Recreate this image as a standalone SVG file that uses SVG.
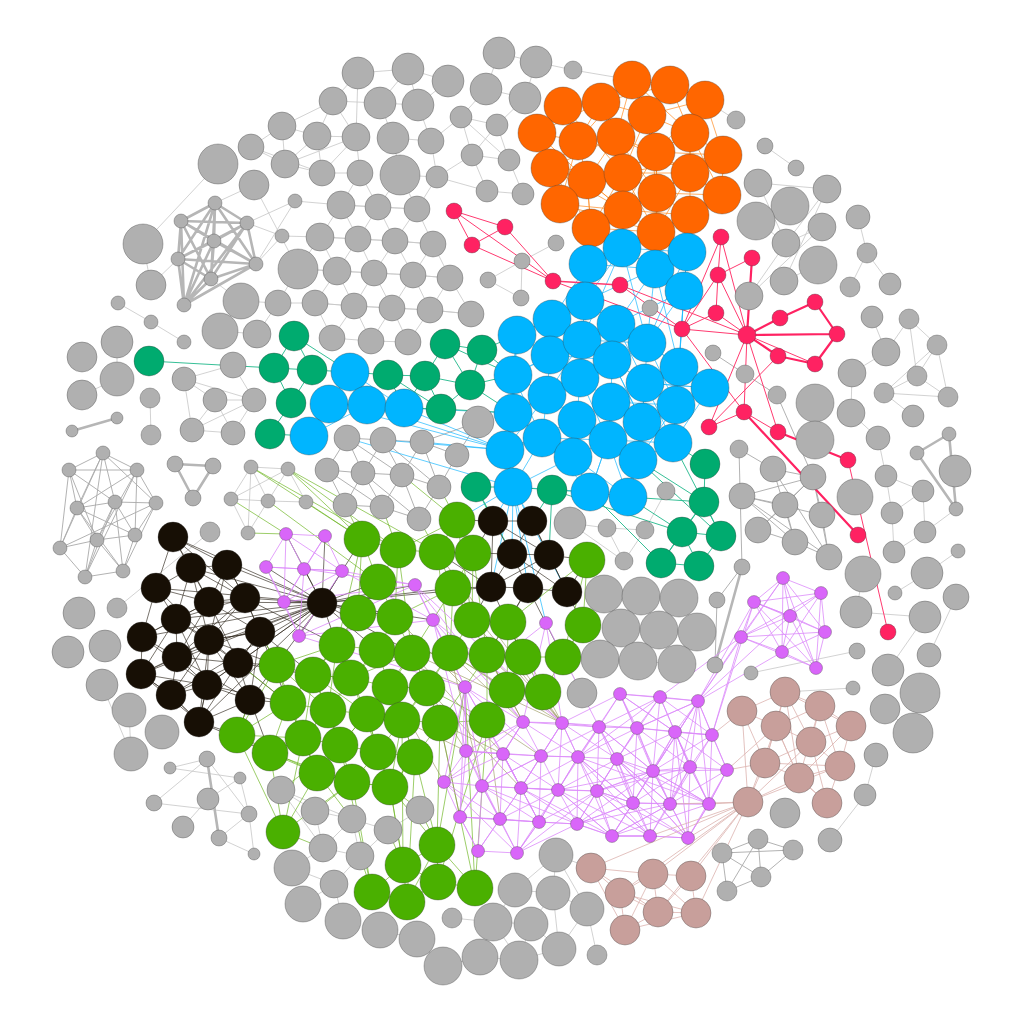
<svg xmlns="http://www.w3.org/2000/svg" width="1024" height="1024" viewBox="0 0 1024 1024">
<style>
circle{stroke:#333;stroke-width:.6;stroke-opacity:.55}
.gr circle{fill:#b0b0b0}
.or circle{fill:#ff6600}
.bl circle{fill:#00b5ff}
.te circle{fill:#00ab6f}
.rd circle{fill:#ff2262}
.bk circle{fill:#170f05}
.lm circle{fill:#4ab000}
.pu circle{fill:#d966f9}
.ro circle{fill:#c89f9b}
path{fill:none;stroke-linejoin:round}
.eg{stroke:#c6c6c6;stroke-width:.8}
.egd{stroke:#a9a9a9;stroke-width:.9}
.egt{stroke:#b6b6b6;stroke-width:2.6}
.eo{stroke:#ff8a1e;stroke-width:.7}
.eb{stroke:#1ab8ff;stroke-width:.7}
.et{stroke:#1fb88a;stroke-width:.9}
.ek{stroke:#2b2217;stroke-width:.8;stroke-opacity:.8}
.el{stroke:#6cb520;stroke-width:.8;stroke-opacity:.85}
.eol{stroke:#8d8a4a;stroke-width:.7;stroke-opacity:.8}
.ep{stroke:#dc8afa;stroke-width:.8}
.er{stroke:#dcb3ae;stroke-width:.8}
.erd{stroke:#ff3a70;stroke-width:1}
.erdt{stroke:#ff2262;stroke-width:2.2}
</style>
<rect width="1024" height="1024" fill="#fff"/>
<g id="connectors">
<path class="eg" d="M282,126 L333,101 358,73 356,137 333,101 317,136 282,126 251,147 285,164 282,126 M317,136 L356,137 360,173 322,173 317,136 285,164 322,173 M251,147 L322,173 M356,137 L322,173 M285,164 L356,137 M333,101 L380,103 M358,73 L408,69 448,81 418,105 380,103 408,69 418,105 M380,103 L393,138 431,141 418,105 M393,138 L400,175 437,177 431,141 M360,173 L341,205 378,207 360,173 M400,175 L378,207 417,209 400,175 M417,209 L437,177 M499,53 L536,62 525,98 486,89 499,53 M486,89 L461,117 497,125 525,98 M461,117 L472,155 509,160 497,125 472,155 M461,117 L509,160 M472,155 L487,191 523,194 509,160 M437,177 L472,155 M437,177 L487,191 M431,141 L461,117 M573,70 L632,80 M536,62 L573,70 M341,205 L320,237 358,239 341,205 M378,207 L358,239 395,241 378,207 M417,209 L395,241 433,244 417,209 M320,237 L298,269 337,271 320,237 M358,239 L337,271 374,273 358,239 M395,241 L374,273 413,275 395,241 M433,244 L413,275 450,278 433,244 M298,269 L278,303 M337,271 L315,303 354,306 337,271 M374,273 L354,306 392,308 374,273 M413,275 L392,308 430,310 413,275 M450,278 L430,310 471,314 450,278 M278,303 L315,303 354,306 392,308 430,310 471,314 M315,303 L332,338 354,306 371,341 392,308 408,342 430,310 M332,338 L371,341 408,342 M320,237 L358,239 395,241 433,244 M298,269 L337,271 374,273 413,275 450,278 M341,205 L378,207 417,209 M254,185 L298,269 M241,301 L278,303 M257,334 L278,303 M220,331 L257,334 M218,164 L143,244 M151,285 L178,259 M118,303 L151,322 184,342 M117,342 L117,379 M143,244 L151,285 M241,301 L211,279 M254,185 L215,203 M295,201 L247,223 M295,201 L256,264 M282,236 L256,264 M282,236 L247,223 M282,236 L320,237 M295,201 L341,205 M117,379 L82,395 M184,379 L215,400 254,400 233,433 192,430 184,379 M215,400 L233,433 M215,400 L192,430 M184,379 L254,400 M233,365 L254,400 M150,398 L151,435 M233,365 L184,379 M192,430 L254,400 M210,532 L117,608 M705,100 L736,120 M765,146 L796,168 M758,183 L827,189 M758,183 L786,243 M827,189 L786,243 M822,227 L786,243 M827,189 L784,281 M822,227 L749,296 M756,221 L786,243 M858,217 L867,253 890,284 M867,253 L850,287 M872,317 L886,352 909,319 937,345 917,376 M909,319 L917,376 M786,243 L749,296 M818,265 L784,281 M852,373 L886,352 M852,373 L851,413 M884,393 L917,376 948,397 884,393 M884,393 L937,345 M948,397 L937,345 M913,416 L884,393 M851,413 L878,438 M878,438 L886,476 892,513 894,552 M886,476 L923,491 892,513 M923,491 L925,532 894,552 M958,551 L927,573 895,593 M956,509 L925,532 M856,612 L925,617 888,670 M857,651 L751,673 M956,597 L929,655 M863,574 L856,612 M853,688 L785,692 M876,755 L865,795 830,840 M885,709 L913,733 M170,768 L240,778 249,814 219,838 M207,759 L154,803 249,814 M207,759 L249,814 M208,799 L183,827 M208,799 L240,778 M249,814 L254,854 M219,838 L254,854 M170,768 L207,759 M102,685 L131,754 M129,710 L131,754 M281,790 L315,811 352,819 M281,790 L323,848 315,811 M352,819 L323,848 360,856 352,819 M323,848 L292,868 334,884 303,904 M334,884 L343,921 M360,856 L334,884 M281,790 L352,819 M352,819 L388,830 420,810 M360,856 L388,830 M556,855 L515,890 553,893 556,855 587,909 553,893 559,949 587,909 597,955 M553,893 L531,924 559,949 M515,890 L493,922 531,924 M452,918 L493,922 480,957 519,960 531,924 M493,922 L519,960 M559,949 L519,960 M443,966 L480,957 M417,939 L443,966 M380,930 L417,939 M556,243 L522,261 488,280 521,298 522,261 M570,523 L607,528 645,530 M607,528 L624,561 M645,530 L666,491 M645,530 L624,561 M570,523 L624,561 M604,594 L641,596 679,598 M621,628 L659,630 697,632 M600,659 L638,661 677,664 M604,594 L621,628 600,659 M641,596 L659,630 638,661 M679,598 L697,632 677,664 M582,693 L563,657 M591,868 L556,855 M251,467 L288,469 268,501 251,467 231,499 268,501 306,502 288,469 M231,499 L248,533 268,501 M251,467 L248,533 M288,469 L231,499"/>
<path class="egd" d="M103,453 L69,470 77,508 60,548 85,577 123,571 135,535 156,503 137,470 103,453 115,502 69,470 137,470 77,508 103,453 156,503 115,502 77,508 97,540 115,502 135,535 97,540 60,548 69,470 97,540 85,577 115,502 123,571 97,540 137,470 135,535 77,508 123,571 156,503 60,548 103,453 85,577 137,470 M347,438 L383,440 422,442 457,455 439,487 402,475 363,473 327,470 347,438 363,473 383,440 402,475 422,442 439,487 419,519 382,507 345,505 327,470 M363,473 L345,505 M363,473 L382,507 402,475 419,519 M347,438 L402,475 M383,440 L439,487 M327,470 L382,507 M363,473 L419,519 M457,455 L478,422 M422,442 L478,422 M739,449 L742,567 M773,469 L739,449 M742,496 L813,477 M742,496 L785,505 M742,496 L795,542 M742,496 L829,557 M742,496 L822,515 M773,469 L813,477 M773,469 L829,557 M773,469 L795,542 M813,477 L785,505 M813,477 L822,515 M813,477 L829,557 M785,505 L758,530 M785,505 L795,542 M822,515 L829,557 M758,530 L795,542 829,557 M813,477 L758,530 M777,395 L813,477 M713,353 L745,374 777,395 M717,600 L715,665 M717,600 L742,567 M722,853 L758,839 793,850 761,877 727,891 722,853 761,877 758,839 727,891 M793,850 L722,853"/>
<path class="egt" d="M215,203 L181,221 247,223 214,241 178,259 256,264 211,279 184,305 215,203 247,223 178,259 211,279 215,203 214,241 256,264 184,305 181,221 214,241 211,279 247,223 256,264 215,203 178,259 184,305 247,223 M181,221 L178,259 M181,221 L211,279 M214,241 L184,305 M181,221 L256,264 M72,431 L117,418 M175,464 L213,466 193,498 Z M949,434 L917,453 956,509 Z M742,567 L715,665 M207,759 L219,838"/>
<path class="eo" d="M563,106 L601,102 632,80 670,85 705,100 723,155 722,195 690,215 656,232 591,228 560,204 550,168 537,133 563,106 M537,133 L578,141 616,137 647,115 690,133 723,155 690,173 656,152 623,173 587,180 550,168 M632,80 L647,115 656,152 657,193 690,215 690,173 690,133 705,100 647,115 616,137 623,173 623,210 591,228 587,180 578,141 563,106 M601,102 L578,141 550,168 587,180 560,204 623,210 657,193 722,195 690,173 657,193 656,232 623,210 587,180 623,173 657,193 656,152 616,137 601,102 M632,80 L616,137 587,180 591,228 623,173 656,232 690,173 723,155 656,152 690,133 670,85 647,115 623,173 560,204 578,141 632,80 M537,133 L587,180 623,210 690,215 722,195 690,133 656,152 623,173 601,102 670,85 616,137 657,193 591,228 550,168 623,173 563,106 M705,100 L656,152 623,210 550,168 616,137 690,173 623,173 723,155 657,193 647,115 601,102 537,133 560,204 656,232 722,195 656,152 632,80 690,133 690,173 591,228"/>
<path class="eb" d="M517,335 L552,319 585,301 588,264 622,248 687,252 684,291 679,367 710,388 676,405 673,443 638,460 628,497 590,492 513,487 505,450 513,413 513,375 517,335 M588,264 L655,269 687,252 684,291 655,269 622,248 585,301 616,324 655,269 647,343 684,291 679,367 647,343 616,324 582,340 585,301 552,319 582,340 550,355 517,335 513,375 550,355 547,395 513,375 M550,355 L580,378 582,340 612,360 616,324 647,343 645,383 679,367 676,405 645,383 612,360 580,378 547,395 513,413 542,438 547,395 577,420 580,378 611,402 612,360 642,422 645,383 673,443 642,422 611,402 577,420 542,438 505,450 513,487 542,438 573,457 577,420 608,440 611,402 676,405 M608,440 L573,457 590,492 608,440 638,460 642,422 608,440 628,497 573,457 513,487 513,413 505,450 542,438 608,440 673,443 710,388 645,383 710,388 647,343 687,252 M588,264 L552,319 550,355 612,360 642,422 628,497 638,460 676,405 647,343 622,248 582,340 547,395 505,450 577,420 638,460 645,383 616,324 684,291 676,405 679,367 655,269 585,301 517,335 513,413 580,378 608,440 590,492 542,438 513,375 582,340 647,343 M350,372 L329,404 367,405 350,372 404,408 367,405 309,436 329,404 M404,408 L513,413 M404,408 L505,450 M367,405 L505,450 M329,404 L505,450 M347,438 L513,487 M383,440 L505,450 M513,487 L493,521 M513,487 L532,521 M513,487 L512,554 M513,487 L491,587 M513,487 L528,588 M513,487 L457,520 M513,487 L546,623 M513,487 L567,592 M505,450 L422,442"/>
<path class="et" d="M149,361 L274,368 M274,368 L312,370 294,336 274,368 291,403 312,370 M291,403 L270,434 M294,336 L350,372 M312,370 L350,372 M388,375 L425,376 445,344 482,350 470,385 425,376 441,409 470,385 445,344 M388,375 L350,372 M388,375 L441,409 M441,409 L404,408 M482,350 L517,335 M470,385 L513,375 M476,487 L513,487 M552,490 L513,487 M552,490 L590,492 M705,464 L704,502 682,532 721,536 699,566 661,563 682,532 699,566 M704,502 L721,536 M704,502 L661,563 M628,497 L682,532 M590,492 L661,563 M638,460 L704,502 M673,443 L705,464 M552,490 L682,532 M628,497 L704,502 M638,460 L721,536 M673,443 L721,536 M388,375 L404,408 M425,376 L404,408 M445,344 L513,375 M482,350 L513,375 M441,409 L513,413 M470,385 L513,413 M476,487 L493,521 M476,487 L512,554 M552,490 L532,521 M552,490 L549,555 M270,434 L309,436"/>
<path class="ek" d="M173,537 L191,568 227,565 245,598 260,632 238,663 250,700 199,722 171,695 141,674 142,637 156,588 173,537 M173,537 L227,565 209,602 191,568 156,588 176,619 209,602 245,598 209,640 176,619 142,637 177,657 209,640 260,632 209,602 238,663 209,640 207,685 177,657 141,674 207,685 250,700 209,640 171,695 207,685 199,722 238,663 M191,568 L176,619 177,657 171,695 199,722 207,685 238,663 260,632 245,598 227,565 209,640 156,588 209,602 173,537 245,598 191,568 209,640 141,674 176,619 207,685 142,637 209,602 177,657 250,700 260,632 209,640 199,722 141,674 171,695 238,663 177,657 245,598 176,619 238,663 M322,603 L173,537 M322,603 L191,568 M322,603 L227,565 M322,603 L156,588 M322,603 L209,602 M322,603 L245,598 M322,603 L176,619 M322,603 L142,637 M322,603 L209,640 M322,603 L260,632 M322,603 L177,657 M322,603 L238,663 M322,603 L141,674 M322,603 L207,685 M322,603 L171,695 M322,603 L250,700 M322,603 L199,722 M260,632 L277,665 M238,663 L277,665 M250,700 L288,703 M250,700 L237,735 M199,722 L237,735 M238,663 L288,703 M245,598 L337,645 M260,632 L313,675 M209,640 L277,665 M207,685 L288,703 M260,632 L288,703 M250,700 L270,753 M199,722 L270,753 M238,663 L313,675 M322,603 L358,613 M322,603 L378,582 M322,603 L362,539 M322,603 L395,617 M322,603 L453,588 M322,603 L491,587 M322,603 L412,653 M322,603 L337,645 M322,603 L377,650 M322,603 L286,534 M322,603 L304,569 M322,603 L266,567 M322,603 L284,602 M322,603 L299,636 M322,603 L342,571 M322,603 L325,536 M322,603 L415,585 M322,603 L433,620 M493,521 L532,521 549,555 567,592 528,588 491,587 512,554 493,521 M532,521 L512,554 549,555 528,588 512,554 567,592 M491,587 L549,555 M532,521 L567,592 M493,521 L491,587 M493,521 L549,555 M491,587 L453,588 M491,587 L472,620 M528,588 L508,622 M567,592 L583,625 M567,592 L587,560 M549,555 L587,560 M493,521 L457,520 M493,521 L473,553 M512,554 L473,553 M491,587 L437,552 M528,588 L563,657 M491,587 L523,657 M528,588 L487,655"/>
<path class="el" d="M362,539 L398,550 437,552 473,553 457,520 437,552 453,588 473,553 472,620 508,622 523,657 563,657 583,625 587,560 508,622 487,655 450,653 472,620 453,588 395,617 378,582 398,550 395,617 358,613 378,582 362,539 358,613 337,645 377,650 395,617 412,653 453,588 450,653 412,653 377,650 351,678 313,675 337,645 277,665 313,675 288,703 277,665 237,735 288,703 328,710 313,675 351,678 328,710 367,714 351,678 390,687 377,650 412,653 427,688 390,687 367,714 402,720 427,688 440,723 402,720 378,752 367,714 340,745 328,710 303,738 288,703 270,753 237,735 303,738 270,753 317,773 303,738 340,745 317,773 352,782 340,745 378,752 352,782 390,787 378,752 415,757 390,787 402,720 415,757 440,723 487,720 507,690 487,655 487,720 427,688 450,653 507,690 543,692 523,657 507,690 508,622 M277,665 L328,710 337,645 351,678 412,653 390,687 402,720 367,714 313,675 303,738 328,710 340,745 367,714 378,752 390,787 403,865 437,845 438,882 475,888 437,845 407,902 372,892 403,865 438,882 407,902 403,865 390,787 415,757 437,845 390,787 352,782 372,892 M283,832 L317,773 M283,832 L270,753 M283,832 L352,782 M283,832 L237,735 M437,845 L440,723 M438,882 L487,720 M475,888 L487,720 M475,888 L465,687 M403,865 L402,720 M407,902 L415,757 M437,845 L465,687 M372,892 L340,745 M283,832 L303,738 M475,888 L440,723 M362,539 L337,645 M398,550 L412,653 M437,552 L450,653 M473,553 L487,655 M457,520 L472,620 M457,520 L398,550 M587,560 L563,657 M583,625 L543,692 M358,613 L313,675 M377,650 L328,710 M412,653 L367,714 M450,653 L402,720 M487,655 L440,723 M523,657 L487,720 M277,665 L303,738 M313,675 L340,745 M351,678 L378,752 M390,687 L415,757 M337,645 L288,703 M237,735 L317,773 M288,703 L317,773 M270,753 L352,782 M251,467 L362,539 M251,467 L398,550 M288,469 L362,539 M288,469 L398,550 M306,502 L362,539 M345,505 L362,539 M382,507 L398,550 M419,519 L437,552 M439,487 L457,520 M402,475 L457,520 M268,501 L378,582 M231,499 L286,534 M248,533 L286,534 M288,469 L437,552 M283,832 L323,848 M317,773 L352,819 M352,782 L315,811 M437,845 L420,810 M403,865 L388,830 M390,787 L420,810 M372,892 L360,856 M340,745 L281,790 M277,665 L260,632 M237,735 L250,700 M288,703 L238,663"/>
<path class="eol" d="M453,588 L562,723 M472,620 L562,723 M450,653 L562,723 M487,655 L562,723 M412,653 L562,723 M437,552 L562,723 M508,622 L562,723 M487,655 L523,722 M450,653 L523,722 M427,688 L466,751 M440,723 L503,754 M487,720 L541,756 M412,653 L503,754 M450,653 L482,786 M427,688 L521,788 M402,720 L466,751 M390,687 L444,782 M440,723 L460,817 M487,720 L500,819 M453,588 L523,722 M395,617 L465,687 M377,650 L465,687"/>
<path class="ep" d="M465,687 L523,722 562,723 599,727 637,728 675,732 712,735 727,770 709,804 688,838 650,836 612,836 577,824 539,822 517,853 478,851 460,817 444,782 466,751 465,687 M465,687 L466,751 503,754 523,722 541,756 562,723 578,757 599,727 617,759 637,728 653,771 675,732 690,767 712,735 709,804 690,767 653,771 617,759 578,757 541,756 503,754 466,751 482,786 503,754 521,788 541,756 558,790 578,757 597,791 617,759 633,803 653,771 670,804 690,767 727,770 M444,782 L482,786 521,788 558,790 597,791 633,803 670,804 709,804 727,770 698,701 712,735 675,732 660,697 698,701 675,732 620,694 660,697 637,728 620,694 599,727 660,697 712,735 637,728 698,701 690,767 675,732 727,770 653,771 698,701 M460,817 L500,819 539,822 577,824 612,836 650,836 688,838 670,804 650,836 633,803 612,836 597,791 577,824 558,790 539,822 521,788 500,819 482,786 460,817 478,851 500,819 517,853 539,822 M444,782 L503,754 460,817 482,786 478,851 521,788 517,853 558,790 500,819 503,754 539,822 541,756 482,786 523,722 503,754 465,687 521,788 562,723 541,756 466,751 523,722 444,782 465,687 482,786 541,756 578,757 523,722 599,727 541,756 M558,790 L617,759 577,824 578,757 612,836 633,803 688,838 709,804 633,803 690,767 650,836 653,771 597,791 653,771 612,836 670,804 617,759 670,804 727,770 688,838 653,771 709,804 578,757 633,803 577,824 653,771 558,790 612,836 650,836 597,791 690,767 M562,723 L617,759 599,727 653,771 620,694 578,757 637,728 562,723 558,790 599,727 597,791 637,728 633,803 675,732 670,804 698,701 653,771 712,735 670,804 620,694 675,732 617,759 660,697 578,757 562,723 620,694 698,701 637,728 690,767 660,697 653,771 599,727 633,803 578,757 650,836 617,759 688,838 690,767 709,804 653,771 698,701 709,804 675,732 688,838 M577,824 L521,788 612,836 558,790 650,836 597,791 688,838 617,759 709,804 612,836 670,804 577,824 633,803 597,791 539,822 578,757 521,788 597,791 517,853 577,824 482,786 539,822 460,817 539,822 503,754 558,790 482,786 517,853 444,782 500,819 466,751 460,817 465,687 541,756 521,788 503,754 M783,578 L821,593 825,632 816,668 782,652 741,637 754,602 783,578 790,616 821,593 754,602 790,616 825,632 782,652 790,616 741,637 783,578 825,632 754,602 782,652 783,578 816,668 790,616 754,602 816,668 741,637 821,593 782,652 M741,637 L825,632 M821,593 L816,668 M741,637 L698,701 M754,602 L698,701 M783,578 L698,701 M782,652 L698,701 M741,637 L712,735 M754,602 L712,735 M790,616 L698,701 M741,637 L660,697 M286,534 L325,536 342,571 304,569 286,534 266,567 304,569 325,536 M266,567 L284,602 304,569 299,636 284,602 342,571 299,636 M286,534 L342,571 M266,567 L342,571 M325,536 L284,602 M286,534 L284,602 M266,567 L299,636 M342,571 L415,585 M342,571 L433,620 M304,569 L415,585 M299,636 L433,620 M299,636 L415,585 M299,636 L465,687 M284,602 L415,585 M415,585 L433,620 M415,585 L465,687 M433,620 L465,687 M433,620 L523,722 M415,585 L523,722 M546,623 L562,723 M546,623 L523,722 M546,623 L465,687 M433,620 L562,723 M546,623 L599,727 M415,585 L562,723 M433,620 L466,751"/>
<path class="er" d="M742,711 L785,692 820,706 851,726 840,766 827,803 799,778 765,763 748,802 742,711 776,726 785,692 811,742 820,706 776,726 811,742 851,726 799,778 776,726 765,763 811,742 840,766 799,778 748,802 776,726 799,778 827,803 811,742 748,802 840,766 765,763 785,692 799,778 M820,706 L840,766 M785,692 L851,726 M742,711 L765,763 M820,706 L799,778 M748,802 L691,876 M748,802 L696,913 M748,802 L653,874 M748,802 L591,868 M748,802 L709,804 M748,802 L688,838 M748,802 L670,804 M748,802 L650,836 M765,763 L727,770 M742,711 L712,735 M776,726 L727,770 M748,802 L620,893 M748,802 L658,912 M591,868 L653,874 691,876 696,913 658,912 625,930 620,893 591,868 M653,874 L658,912 691,876 M620,893 L658,912 M653,874 L620,893 M696,913 L653,874 M591,868 L658,912 M625,930 L696,913 M620,893 L696,913 M591,868 L625,930 M653,874 L625,930"/>
<path class="erd" d="M454,211 L505,227 472,245 454,211 553,281 472,245 M505,227 L553,281 M620,285 L682,329 M553,281 L682,329 M620,285 L747,335 M721,237 L718,275 M721,237 L682,329 M721,237 L747,335 M752,258 L718,275 716,313 747,335 M718,275 L747,335 M682,329 L747,335 M716,313 L682,329 M747,335 L744,412 709,427 747,335 778,432 M747,335 L815,364 M709,427 L778,356 M744,412 L682,329 M848,460 L888,632 M718,275 L682,329 M778,432 L744,412"/>
<path class="erdt" d="M752,258 L747,335 M815,302 L780,318 747,335 837,334 815,302 M837,334 L815,364 778,356 747,335 M778,432 L848,460 M744,412 L858,535"/>
<path class="erd" style="stroke-width:1.6" d="M553,281 L620,285"/>
</g>
<g id="nodes">
<g class="gr">
<g id="u1"><circle cx="358" cy="73" r="16"/></g>
<g id="u2"><circle cx="333" cy="101" r="14"/></g>
<g id="u3"><circle cx="282" cy="126" r="14"/></g>
<g id="u4"><circle cx="317" cy="136" r="14"/></g>
<g id="u5"><circle cx="356" cy="137" r="14"/></g>
<g id="u6"><circle cx="251" cy="147" r="13"/></g>
<g id="u7"><circle cx="285" cy="164" r="14"/></g>
<g id="u8"><circle cx="322" cy="173" r="13"/></g>
<g id="u9"><circle cx="360" cy="173" r="13"/></g>
<g id="u10"><circle cx="218" cy="164" r="20"/></g>
<g id="u11"><circle cx="254" cy="185" r="15"/></g>
<g id="u12"><circle cx="295" cy="201" r="7"/></g>
<g id="u13"><circle cx="215" cy="203" r="7"/></g>
<g id="u14"><circle cx="181" cy="221" r="7"/></g>
<g id="u15"><circle cx="247" cy="223" r="7"/></g>
<g id="u16"><circle cx="214" cy="241" r="7"/></g>
<g id="u17"><circle cx="178" cy="259" r="7"/></g>
<g id="u18"><circle cx="256" cy="264" r="7"/></g>
<g id="u19"><circle cx="211" cy="279" r="7"/></g>
<g id="u20"><circle cx="184" cy="305" r="7"/></g>
<g id="u21"><circle cx="282" cy="236" r="7"/></g>
<g id="u22"><circle cx="143" cy="244" r="20"/></g>
<g id="u23"><circle cx="151" cy="285" r="15"/></g>
<g id="u24"><circle cx="298" cy="269" r="20"/></g>
<g id="u25"><circle cx="341" cy="205" r="14"/></g>
<g id="u26"><circle cx="320" cy="237" r="14"/></g>
<g id="u27"><circle cx="358" cy="239" r="13"/></g>
<g id="u28"><circle cx="337" cy="271" r="14"/></g>
<g id="u29"><circle cx="241" cy="301" r="18"/></g>
<g id="u30"><circle cx="278" cy="303" r="13"/></g>
<g id="u31"><circle cx="315" cy="303" r="13"/></g>
<g id="u32"><circle cx="354" cy="306" r="13"/></g>
<g id="u33"><circle cx="118" cy="303" r="7"/></g>
<g id="u34"><circle cx="151" cy="322" r="7"/></g>
<g id="u35"><circle cx="184" cy="342" r="7"/></g>
<g id="u36"><circle cx="117" cy="342" r="16"/></g>
<g id="u37"><circle cx="220" cy="331" r="18"/></g>
<g id="u38"><circle cx="257" cy="334" r="14"/></g>
<g id="u39"><circle cx="332" cy="338" r="13"/></g>
<g id="u40"><circle cx="82" cy="357" r="15"/></g>
<g id="u41"><circle cx="408" cy="69" r="16"/></g>
<g id="u42"><circle cx="448" cy="81" r="16"/></g>
<g id="u43"><circle cx="499" cy="53" r="16"/></g>
<g id="u44"><circle cx="536" cy="62" r="16"/></g>
<g id="u45"><circle cx="573" cy="70" r="9"/></g>
<g id="u46"><circle cx="380" cy="103" r="16"/></g>
<g id="u47"><circle cx="418" cy="105" r="16"/></g>
<g id="u48"><circle cx="486" cy="89" r="16"/></g>
<g id="u49"><circle cx="525" cy="98" r="16"/></g>
<g id="u50"><circle cx="461" cy="117" r="11"/></g>
<g id="u51"><circle cx="497" cy="125" r="11"/></g>
<g id="u52"><circle cx="393" cy="138" r="16"/></g>
<g id="u53"><circle cx="431" cy="141" r="13"/></g>
<g id="u54"><circle cx="472" cy="155" r="11"/></g>
<g id="u55"><circle cx="509" cy="160" r="11"/></g>
<g id="u56"><circle cx="400" cy="175" r="20"/></g>
<g id="u57"><circle cx="437" cy="177" r="11"/></g>
<g id="u58"><circle cx="487" cy="191" r="11"/></g>
<g id="u59"><circle cx="523" cy="194" r="11"/></g>
<g id="u60"><circle cx="378" cy="207" r="13"/></g>
<g id="u61"><circle cx="417" cy="209" r="13"/></g>
<g id="u62"><circle cx="395" cy="241" r="13"/></g>
<g id="u63"><circle cx="433" cy="244" r="13"/></g>
<g id="u64"><circle cx="374" cy="273" r="13"/></g>
<g id="u65"><circle cx="413" cy="275" r="13"/></g>
<g id="u66"><circle cx="450" cy="278" r="13"/></g>
<g id="u67"><circle cx="556" cy="243" r="8"/></g>
<g id="u68"><circle cx="522" cy="261" r="8"/></g>
<g id="u69"><circle cx="488" cy="280" r="8"/></g>
<g id="u70"><circle cx="521" cy="298" r="8"/></g>
<g id="u71"><circle cx="392" cy="308" r="13"/></g>
<g id="u72"><circle cx="430" cy="310" r="13"/></g>
<g id="u73"><circle cx="471" cy="314" r="13"/></g>
<g id="u74"><circle cx="371" cy="341" r="13"/></g>
<g id="u75"><circle cx="408" cy="342" r="13"/></g>
<g id="u76"><circle cx="650" cy="308" r="8"/></g>
<g id="u77"><circle cx="736" cy="120" r="9"/></g>
<g id="u78"><circle cx="765" cy="146" r="8"/></g>
<g id="u79"><circle cx="796" cy="168" r="8"/></g>
<g id="u80"><circle cx="758" cy="183" r="14"/></g>
<g id="u81"><circle cx="827" cy="189" r="14"/></g>
<g id="u82"><circle cx="790" cy="206" r="19"/></g>
<g id="u83"><circle cx="756" cy="221" r="19"/></g>
<g id="u84"><circle cx="822" cy="227" r="14"/></g>
<g id="u85"><circle cx="858" cy="217" r="12"/></g>
<g id="u86"><circle cx="786" cy="243" r="14"/></g>
<g id="u87"><circle cx="818" cy="265" r="19"/></g>
<g id="u88"><circle cx="867" cy="253" r="10"/></g>
<g id="u89"><circle cx="784" cy="281" r="14"/></g>
<g id="u90"><circle cx="850" cy="287" r="10"/></g>
<g id="u91"><circle cx="890" cy="284" r="11"/></g>
<g id="u92"><circle cx="749" cy="296" r="14"/></g>
<g id="u93"><circle cx="872" cy="317" r="11"/></g>
<g id="u94"><circle cx="909" cy="319" r="10"/></g>
<g id="u95"><circle cx="937" cy="345" r="10"/></g>
<g id="u96"><circle cx="713" cy="353" r="8"/></g>
<g id="u97"><circle cx="886" cy="352" r="14"/></g>
<g id="u98"><circle cx="745" cy="374" r="9"/></g>
<g id="u99"><circle cx="777" cy="395" r="9"/></g>
<g id="u100"><circle cx="815" cy="403" r="19"/></g>
<g id="u101"><circle cx="815" cy="440" r="19"/></g>
<g id="u102"><circle cx="852" cy="373" r="14"/></g>
<g id="u103"><circle cx="917" cy="376" r="10"/></g>
<g id="u104"><circle cx="884" cy="393" r="10"/></g>
<g id="u105"><circle cx="948" cy="397" r="10"/></g>
<g id="u106"><circle cx="913" cy="416" r="11"/></g>
<g id="u107"><circle cx="851" cy="413" r="14"/></g>
<g id="u108"><circle cx="878" cy="438" r="12"/></g>
<g id="u109"><circle cx="917" cy="453" r="7"/></g>
<g id="u110"><circle cx="949" cy="434" r="7"/></g>
<g id="u111"><circle cx="955" cy="471" r="16"/></g>
<g id="u112"><circle cx="956" cy="509" r="7"/></g>
<g id="u113"><circle cx="739" cy="449" r="9"/></g>
<g id="u114"><circle cx="773" cy="469" r="13"/></g>
<g id="u115"><circle cx="813" cy="477" r="13"/></g>
<g id="u116"><circle cx="742" cy="496" r="13"/></g>
<g id="u117"><circle cx="785" cy="505" r="13"/></g>
<g id="u118"><circle cx="822" cy="515" r="13"/></g>
<g id="u119"><circle cx="855" cy="497" r="18"/></g>
<g id="u120"><circle cx="886" cy="476" r="11"/></g>
<g id="u121"><circle cx="923" cy="491" r="11"/></g>
<g id="u122"><circle cx="892" cy="513" r="11"/></g>
<g id="u123"><circle cx="758" cy="530" r="13"/></g>
<g id="u124"><circle cx="795" cy="542" r="13"/></g>
<g id="u125"><circle cx="829" cy="557" r="13"/></g>
<g id="u126"><circle cx="925" cy="532" r="11"/></g>
<g id="u127"><circle cx="894" cy="552" r="11"/></g>
<g id="u128"><circle cx="958" cy="551" r="7"/></g>
<g id="u129"><circle cx="863" cy="574" r="18"/></g>
<g id="u130"><circle cx="927" cy="573" r="16"/></g>
<g id="u131"><circle cx="742" cy="567" r="8"/></g>
<g id="u132"><circle cx="895" cy="593" r="7"/></g>
<g id="u133"><circle cx="956" cy="597" r="13"/></g>
<g id="u134"><circle cx="717" cy="600" r="8"/></g>
<g id="u135"><circle cx="856" cy="612" r="16"/></g>
<g id="u136"><circle cx="925" cy="617" r="16"/></g>
<g id="u137"><circle cx="857" cy="651" r="8"/></g>
<g id="u138"><circle cx="929" cy="655" r="12"/></g>
<g id="u139"><circle cx="715" cy="665" r="8"/></g>
<g id="u140"><circle cx="751" cy="673" r="7"/></g>
<g id="u141"><circle cx="888" cy="670" r="16"/></g>
<g id="u142"><circle cx="853" cy="688" r="7"/></g>
<g id="u143"><circle cx="920" cy="693" r="20"/></g>
<g id="u144"><circle cx="885" cy="709" r="15"/></g>
<g id="u145"><circle cx="913" cy="733" r="20"/></g>
<g id="u146"><circle cx="876" cy="755" r="12"/></g>
<g id="u147"><circle cx="865" cy="795" r="11"/></g>
<g id="u148"><circle cx="785" cy="813" r="15"/></g>
<g id="u149"><circle cx="830" cy="840" r="12"/></g>
<g id="u150"><circle cx="758" cy="839" r="10"/></g>
<g id="u151"><circle cx="722" cy="853" r="10"/></g>
<g id="u152"><circle cx="793" cy="850" r="10"/></g>
<g id="u153"><circle cx="761" cy="877" r="10"/></g>
<g id="u154"><circle cx="727" cy="891" r="10"/></g>
<g id="u155"><circle cx="347" cy="438" r="13"/></g>
<g id="u156"><circle cx="383" cy="440" r="13"/></g>
<g id="u157"><circle cx="422" cy="442" r="12"/></g>
<g id="u158"><circle cx="457" cy="455" r="12"/></g>
<g id="u159"><circle cx="478" cy="422" r="16"/></g>
<g id="u160"><circle cx="327" cy="470" r="12"/></g>
<g id="u161"><circle cx="363" cy="473" r="12"/></g>
<g id="u162"><circle cx="402" cy="475" r="12"/></g>
<g id="u163"><circle cx="439" cy="487" r="12"/></g>
<g id="u164"><circle cx="345" cy="505" r="12"/></g>
<g id="u165"><circle cx="382" cy="507" r="12"/></g>
<g id="u166"><circle cx="419" cy="519" r="12"/></g>
<g id="u167"><circle cx="570" cy="523" r="16"/></g>
<g id="u168"><circle cx="607" cy="528" r="9"/></g>
<g id="u169"><circle cx="645" cy="530" r="9"/></g>
<g id="u170"><circle cx="666" cy="491" r="9"/></g>
<g id="u171"><circle cx="624" cy="561" r="9"/></g>
<g id="u172"><circle cx="604" cy="594" r="19"/></g>
<g id="u173"><circle cx="641" cy="596" r="19"/></g>
<g id="u174"><circle cx="679" cy="598" r="19"/></g>
<g id="u175"><circle cx="621" cy="628" r="19"/></g>
<g id="u176"><circle cx="659" cy="630" r="19"/></g>
<g id="u177"><circle cx="697" cy="632" r="19"/></g>
<g id="u178"><circle cx="600" cy="659" r="19"/></g>
<g id="u179"><circle cx="638" cy="661" r="19"/></g>
<g id="u180"><circle cx="677" cy="664" r="19"/></g>
<g id="u181"><circle cx="582" cy="693" r="15"/></g>
<g id="u182"><circle cx="117" cy="379" r="17"/></g>
<g id="u183"><circle cx="82" cy="395" r="15"/></g>
<g id="u184"><circle cx="150" cy="398" r="10"/></g>
<g id="u185"><circle cx="184" cy="379" r="12"/></g>
<g id="u186"><circle cx="233" cy="365" r="13"/></g>
<g id="u187"><circle cx="215" cy="400" r="12"/></g>
<g id="u188"><circle cx="254" cy="400" r="12"/></g>
<g id="u189"><circle cx="151" cy="435" r="10"/></g>
<g id="u190"><circle cx="192" cy="430" r="12"/></g>
<g id="u191"><circle cx="233" cy="433" r="12"/></g>
<g id="u192"><circle cx="72" cy="431" r="6"/></g>
<g id="u193"><circle cx="117" cy="418" r="6"/></g>
<g id="u194"><circle cx="103" cy="453" r="7"/></g>
<g id="u195"><circle cx="69" cy="470" r="7"/></g>
<g id="u196"><circle cx="137" cy="470" r="7"/></g>
<g id="u197"><circle cx="77" cy="508" r="7"/></g>
<g id="u198"><circle cx="115" cy="502" r="7"/></g>
<g id="u199"><circle cx="156" cy="503" r="7"/></g>
<g id="u200"><circle cx="97" cy="540" r="7"/></g>
<g id="u201"><circle cx="135" cy="535" r="7"/></g>
<g id="u202"><circle cx="60" cy="548" r="7"/></g>
<g id="u203"><circle cx="85" cy="577" r="7"/></g>
<g id="u204"><circle cx="123" cy="571" r="7"/></g>
<g id="u205"><circle cx="175" cy="464" r="8"/></g>
<g id="u206"><circle cx="213" cy="466" r="8"/></g>
<g id="u207"><circle cx="193" cy="498" r="8"/></g>
<g id="u208"><circle cx="251" cy="467" r="7"/></g>
<g id="u209"><circle cx="288" cy="469" r="7"/></g>
<g id="u210"><circle cx="231" cy="499" r="7"/></g>
<g id="u211"><circle cx="268" cy="501" r="7"/></g>
<g id="u212"><circle cx="306" cy="502" r="7"/></g>
<g id="u213"><circle cx="248" cy="533" r="7"/></g>
<g id="u214"><circle cx="210" cy="532" r="10"/></g>
<g id="u215"><circle cx="117" cy="608" r="10"/></g>
<g id="u216"><circle cx="79" cy="613" r="16"/></g>
<g id="u217"><circle cx="68" cy="652" r="16"/></g>
<g id="u218"><circle cx="105" cy="646" r="16"/></g>
<g id="u219"><circle cx="102" cy="685" r="16"/></g>
<g id="u220"><circle cx="129" cy="710" r="17"/></g>
<g id="u221"><circle cx="162" cy="732" r="17"/></g>
<g id="u222"><circle cx="131" cy="754" r="17"/></g>
<g id="u223"><circle cx="170" cy="768" r="6"/></g>
<g id="u224"><circle cx="207" cy="759" r="8"/></g>
<g id="u225"><circle cx="240" cy="778" r="6"/></g>
<g id="u226"><circle cx="154" cy="803" r="8"/></g>
<g id="u227"><circle cx="208" cy="799" r="11"/></g>
<g id="u228"><circle cx="249" cy="814" r="8"/></g>
<g id="u229"><circle cx="183" cy="827" r="11"/></g>
<g id="u230"><circle cx="219" cy="838" r="8"/></g>
<g id="u231"><circle cx="254" cy="854" r="6"/></g>
<g id="u232"><circle cx="281" cy="790" r="14"/></g>
<g id="u233"><circle cx="315" cy="811" r="14"/></g>
<g id="u234"><circle cx="352" cy="819" r="14"/></g>
<g id="u235"><circle cx="323" cy="848" r="14"/></g>
<g id="u236"><circle cx="360" cy="856" r="14"/></g>
<g id="u237"><circle cx="292" cy="868" r="18"/></g>
<g id="u238"><circle cx="334" cy="884" r="14"/></g>
<g id="u239"><circle cx="303" cy="904" r="18"/></g>
<g id="u240"><circle cx="343" cy="921" r="18"/></g>
<g id="u241"><circle cx="420" cy="810" r="14"/></g>
<g id="u242"><circle cx="388" cy="830" r="14"/></g>
<g id="u243"><circle cx="556" cy="855" r="17"/></g>
<g id="u244"><circle cx="515" cy="890" r="17"/></g>
<g id="u245"><circle cx="553" cy="893" r="17"/></g>
<g id="u246"><circle cx="587" cy="909" r="17"/></g>
<g id="u247"><circle cx="452" cy="918" r="10"/></g>
<g id="u248"><circle cx="493" cy="922" r="19"/></g>
<g id="u249"><circle cx="531" cy="924" r="17"/></g>
<g id="u250"><circle cx="559" cy="949" r="17"/></g>
<g id="u251"><circle cx="597" cy="955" r="10"/></g>
<g id="u252"><circle cx="380" cy="930" r="18"/></g>
<g id="u253"><circle cx="417" cy="939" r="18"/></g>
<g id="u254"><circle cx="443" cy="966" r="19"/></g>
<g id="u255"><circle cx="480" cy="957" r="18"/></g>
<g id="u256"><circle cx="519" cy="960" r="19"/></g>
</g>
<g class="or">
<g id="o1"><circle cx="632" cy="80" r="19"/></g>
<g id="o2"><circle cx="670" cy="85" r="19"/></g>
<g id="o3"><circle cx="705" cy="100" r="19"/></g>
<g id="o4"><circle cx="563" cy="106" r="19"/></g>
<g id="o5"><circle cx="601" cy="102" r="19"/></g>
<g id="o6"><circle cx="647" cy="115" r="19"/></g>
<g id="o7"><circle cx="537" cy="133" r="19"/></g>
<g id="o8"><circle cx="578" cy="141" r="19"/></g>
<g id="o9"><circle cx="616" cy="137" r="19"/></g>
<g id="o10"><circle cx="690" cy="133" r="19"/></g>
<g id="o11"><circle cx="723" cy="155" r="19"/></g>
<g id="o12"><circle cx="550" cy="168" r="19"/></g>
<g id="o13"><circle cx="587" cy="180" r="19"/></g>
<g id="o14"><circle cx="623" cy="173" r="19"/></g>
<g id="o15"><circle cx="656" cy="152" r="19"/></g>
<g id="o16"><circle cx="690" cy="173" r="19"/></g>
<g id="o17"><circle cx="722" cy="195" r="19"/></g>
<g id="o18"><circle cx="560" cy="204" r="19"/></g>
<g id="o19"><circle cx="623" cy="210" r="19"/></g>
<g id="o20"><circle cx="657" cy="193" r="19"/></g>
<g id="o21"><circle cx="690" cy="215" r="19"/></g>
<g id="o22"><circle cx="591" cy="228" r="19"/></g>
<g id="o23"><circle cx="656" cy="232" r="19"/></g>
</g>
<g class="bl">
<g id="b1"><circle cx="588" cy="264" r="19"/></g>
<g id="b2"><circle cx="622" cy="248" r="19"/></g>
<g id="b3"><circle cx="655" cy="269" r="19"/></g>
<g id="b4"><circle cx="687" cy="252" r="19"/></g>
<g id="b5"><circle cx="684" cy="291" r="19"/></g>
<g id="b6"><circle cx="585" cy="301" r="19"/></g>
<g id="b7"><circle cx="552" cy="319" r="19"/></g>
<g id="b8"><circle cx="517" cy="335" r="19"/></g>
<g id="b9"><circle cx="550" cy="355" r="19"/></g>
<g id="b10"><circle cx="582" cy="340" r="19"/></g>
<g id="b11"><circle cx="616" cy="324" r="19"/></g>
<g id="b12"><circle cx="647" cy="343" r="19"/></g>
<g id="b13"><circle cx="679" cy="367" r="19"/></g>
<g id="b14"><circle cx="710" cy="388" r="19"/></g>
<g id="b15"><circle cx="513" cy="375" r="19"/></g>
<g id="b16"><circle cx="547" cy="395" r="19"/></g>
<g id="b17"><circle cx="580" cy="378" r="19"/></g>
<g id="b18"><circle cx="612" cy="360" r="19"/></g>
<g id="b19"><circle cx="645" cy="383" r="19"/></g>
<g id="b20"><circle cx="676" cy="405" r="19"/></g>
<g id="b21"><circle cx="513" cy="413" r="19"/></g>
<g id="b22"><circle cx="577" cy="420" r="19"/></g>
<g id="b23"><circle cx="611" cy="402" r="19"/></g>
<g id="b24"><circle cx="642" cy="422" r="19"/></g>
<g id="b25"><circle cx="542" cy="438" r="19"/></g>
<g id="b26"><circle cx="608" cy="440" r="19"/></g>
<g id="b27"><circle cx="673" cy="443" r="19"/></g>
<g id="b28"><circle cx="505" cy="450" r="19"/></g>
<g id="b29"><circle cx="573" cy="457" r="19"/></g>
<g id="b30"><circle cx="638" cy="460" r="19"/></g>
<g id="b31"><circle cx="513" cy="487" r="19"/></g>
<g id="b32"><circle cx="590" cy="492" r="19"/></g>
<g id="b33"><circle cx="628" cy="497" r="19"/></g>
<g id="b34"><circle cx="350" cy="372" r="19"/></g>
<g id="b35"><circle cx="329" cy="404" r="19"/></g>
<g id="b36"><circle cx="367" cy="405" r="19"/></g>
<g id="b37"><circle cx="404" cy="408" r="19"/></g>
<g id="b38"><circle cx="309" cy="436" r="19"/></g>
</g>
<g class="te">
<g id="t1"><circle cx="149" cy="361" r="15"/></g>
<g id="t2"><circle cx="294" cy="336" r="15"/></g>
<g id="t3"><circle cx="274" cy="368" r="15"/></g>
<g id="t4"><circle cx="312" cy="370" r="15"/></g>
<g id="t5"><circle cx="291" cy="403" r="15"/></g>
<g id="t6"><circle cx="270" cy="434" r="15"/></g>
<g id="t7"><circle cx="388" cy="375" r="15"/></g>
<g id="t8"><circle cx="425" cy="376" r="15"/></g>
<g id="t9"><circle cx="445" cy="344" r="15"/></g>
<g id="t10"><circle cx="482" cy="350" r="15"/></g>
<g id="t11"><circle cx="470" cy="385" r="15"/></g>
<g id="t12"><circle cx="441" cy="409" r="15"/></g>
<g id="t13"><circle cx="476" cy="487" r="15"/></g>
<g id="t14"><circle cx="552" cy="490" r="15"/></g>
<g id="t15"><circle cx="705" cy="464" r="15"/></g>
<g id="t16"><circle cx="704" cy="502" r="15"/></g>
<g id="t17"><circle cx="682" cy="532" r="15"/></g>
<g id="t18"><circle cx="721" cy="536" r="15"/></g>
<g id="t19"><circle cx="661" cy="563" r="15"/></g>
<g id="t20"><circle cx="699" cy="566" r="15"/></g>
</g>
<g class="rd">
<g id="r1"><circle cx="454" cy="211" r="8"/></g>
<g id="r2"><circle cx="505" cy="227" r="8"/></g>
<g id="r3"><circle cx="472" cy="245" r="8"/></g>
<g id="r4"><circle cx="553" cy="281" r="8"/></g>
<g id="r5"><circle cx="620" cy="285" r="8"/></g>
<g id="r6"><circle cx="721" cy="237" r="8"/></g>
<g id="r7"><circle cx="752" cy="258" r="8"/></g>
<g id="r8"><circle cx="718" cy="275" r="8"/></g>
<g id="r9"><circle cx="716" cy="313" r="8"/></g>
<g id="r10"><circle cx="682" cy="329" r="8"/></g>
<g id="r11"><circle cx="815" cy="302" r="8"/></g>
<g id="r12"><circle cx="780" cy="318" r="8"/></g>
<g id="r13"><circle cx="747" cy="335" r="9"/></g>
<g id="r14"><circle cx="837" cy="334" r="8"/></g>
<g id="r15"><circle cx="778" cy="356" r="8"/></g>
<g id="r16"><circle cx="815" cy="364" r="8"/></g>
<g id="r17"><circle cx="744" cy="412" r="8"/></g>
<g id="r18"><circle cx="709" cy="427" r="8"/></g>
<g id="r19"><circle cx="778" cy="432" r="8"/></g>
<g id="r20"><circle cx="848" cy="460" r="8"/></g>
<g id="r21"><circle cx="858" cy="535" r="8"/></g>
<g id="r22"><circle cx="888" cy="632" r="8"/></g>
</g>
<g class="bk">
<g id="k1"><circle cx="173" cy="537" r="15"/></g>
<g id="k2"><circle cx="191" cy="568" r="15"/></g>
<g id="k3"><circle cx="227" cy="565" r="15"/></g>
<g id="k4"><circle cx="156" cy="588" r="15"/></g>
<g id="k5"><circle cx="209" cy="602" r="15"/></g>
<g id="k6"><circle cx="245" cy="598" r="15"/></g>
<g id="k7"><circle cx="176" cy="619" r="15"/></g>
<g id="k8"><circle cx="142" cy="637" r="15"/></g>
<g id="k9"><circle cx="209" cy="640" r="15"/></g>
<g id="k10"><circle cx="260" cy="632" r="15"/></g>
<g id="k11"><circle cx="177" cy="657" r="15"/></g>
<g id="k12"><circle cx="238" cy="663" r="15"/></g>
<g id="k13"><circle cx="141" cy="674" r="15"/></g>
<g id="k14"><circle cx="207" cy="685" r="15"/></g>
<g id="k15"><circle cx="171" cy="695" r="15"/></g>
<g id="k16"><circle cx="250" cy="700" r="15"/></g>
<g id="k17"><circle cx="199" cy="722" r="15"/></g>
<g id="k18"><circle cx="322" cy="603" r="15"/></g>
<g id="c1"><circle cx="493" cy="521" r="15"/></g>
<g id="c2"><circle cx="532" cy="521" r="15"/></g>
<g id="c3"><circle cx="512" cy="554" r="15"/></g>
<g id="c4"><circle cx="549" cy="555" r="15"/></g>
<g id="c5"><circle cx="491" cy="587" r="15"/></g>
<g id="c6"><circle cx="528" cy="588" r="15"/></g>
<g id="c7"><circle cx="567" cy="592" r="15"/></g>
</g>
<g class="lm">
<g id="g1"><circle cx="457" cy="520" r="18"/></g>
<g id="g2"><circle cx="362" cy="539" r="18"/></g>
<g id="g3"><circle cx="398" cy="550" r="18"/></g>
<g id="g4"><circle cx="437" cy="552" r="18"/></g>
<g id="g5"><circle cx="473" cy="553" r="18"/></g>
<g id="g6"><circle cx="587" cy="560" r="18"/></g>
<g id="g7"><circle cx="378" cy="582" r="18"/></g>
<g id="g8"><circle cx="453" cy="588" r="18"/></g>
<g id="g9"><circle cx="358" cy="613" r="18"/></g>
<g id="g10"><circle cx="395" cy="617" r="18"/></g>
<g id="g11"><circle cx="472" cy="620" r="18"/></g>
<g id="g12"><circle cx="508" cy="622" r="18"/></g>
<g id="g13"><circle cx="583" cy="625" r="18"/></g>
<g id="g14"><circle cx="337" cy="645" r="18"/></g>
<g id="g15"><circle cx="377" cy="650" r="18"/></g>
<g id="g16"><circle cx="412" cy="653" r="18"/></g>
<g id="g17"><circle cx="450" cy="653" r="18"/></g>
<g id="g18"><circle cx="487" cy="655" r="18"/></g>
<g id="g19"><circle cx="523" cy="657" r="18"/></g>
<g id="g20"><circle cx="563" cy="657" r="18"/></g>
<g id="g21"><circle cx="277" cy="665" r="18"/></g>
<g id="g22"><circle cx="313" cy="675" r="18"/></g>
<g id="g23"><circle cx="351" cy="678" r="18"/></g>
<g id="g24"><circle cx="390" cy="687" r="18"/></g>
<g id="g25"><circle cx="427" cy="688" r="18"/></g>
<g id="g26"><circle cx="507" cy="690" r="18"/></g>
<g id="g27"><circle cx="543" cy="692" r="18"/></g>
<g id="g28"><circle cx="288" cy="703" r="18"/></g>
<g id="g29"><circle cx="328" cy="710" r="18"/></g>
<g id="g30"><circle cx="367" cy="714" r="18"/></g>
<g id="g31"><circle cx="402" cy="720" r="18"/></g>
<g id="g32"><circle cx="440" cy="723" r="18"/></g>
<g id="g33"><circle cx="487" cy="720" r="18"/></g>
<g id="g34"><circle cx="237" cy="735" r="18"/></g>
<g id="g35"><circle cx="303" cy="738" r="18"/></g>
<g id="g36"><circle cx="340" cy="745" r="18"/></g>
<g id="g37"><circle cx="378" cy="752" r="18"/></g>
<g id="g38"><circle cx="415" cy="757" r="18"/></g>
<g id="g39"><circle cx="270" cy="753" r="18"/></g>
<g id="g40"><circle cx="317" cy="773" r="18"/></g>
<g id="g41"><circle cx="352" cy="782" r="18"/></g>
<g id="g42"><circle cx="390" cy="787" r="18"/></g>
<g id="g43"><circle cx="283" cy="832" r="17"/></g>
<g id="g44"><circle cx="437" cy="845" r="18"/></g>
<g id="g45"><circle cx="403" cy="865" r="18"/></g>
<g id="g46"><circle cx="438" cy="882" r="18"/></g>
<g id="g47"><circle cx="475" cy="888" r="18"/></g>
<g id="g48"><circle cx="372" cy="892" r="18"/></g>
<g id="g49"><circle cx="407" cy="902" r="18"/></g>
</g>
<g class="pu">
<g id="p1"><circle cx="465" cy="687" r="6.5"/></g>
<g id="p2"><circle cx="523" cy="722" r="6.5"/></g>
<g id="p3"><circle cx="562" cy="723" r="6.5"/></g>
<g id="p4"><circle cx="599" cy="727" r="6.5"/></g>
<g id="p5"><circle cx="637" cy="728" r="6.5"/></g>
<g id="p6"><circle cx="675" cy="732" r="6.5"/></g>
<g id="p7"><circle cx="620" cy="694" r="6.5"/></g>
<g id="p8"><circle cx="660" cy="697" r="6.5"/></g>
<g id="p9"><circle cx="698" cy="701" r="6.5"/></g>
<g id="p10"><circle cx="712" cy="735" r="6.5"/></g>
<g id="p11"><circle cx="466" cy="751" r="6.5"/></g>
<g id="p12"><circle cx="503" cy="754" r="6.5"/></g>
<g id="p13"><circle cx="541" cy="756" r="6.5"/></g>
<g id="p14"><circle cx="578" cy="757" r="6.5"/></g>
<g id="p15"><circle cx="617" cy="759" r="6.5"/></g>
<g id="p16"><circle cx="653" cy="771" r="6.5"/></g>
<g id="p17"><circle cx="690" cy="767" r="6.5"/></g>
<g id="p18"><circle cx="727" cy="770" r="6.5"/></g>
<g id="p19"><circle cx="444" cy="782" r="6.5"/></g>
<g id="p20"><circle cx="482" cy="786" r="6.5"/></g>
<g id="p21"><circle cx="521" cy="788" r="6.5"/></g>
<g id="p22"><circle cx="558" cy="790" r="6.5"/></g>
<g id="p23"><circle cx="597" cy="791" r="6.5"/></g>
<g id="p24"><circle cx="633" cy="803" r="6.5"/></g>
<g id="p25"><circle cx="670" cy="804" r="6.5"/></g>
<g id="p26"><circle cx="709" cy="804" r="6.5"/></g>
<g id="p27"><circle cx="460" cy="817" r="6.5"/></g>
<g id="p28"><circle cx="500" cy="819" r="6.5"/></g>
<g id="p29"><circle cx="539" cy="822" r="6.5"/></g>
<g id="p30"><circle cx="577" cy="824" r="6.5"/></g>
<g id="p31"><circle cx="612" cy="836" r="6.5"/></g>
<g id="p32"><circle cx="650" cy="836" r="6.5"/></g>
<g id="p33"><circle cx="688" cy="838" r="6.5"/></g>
<g id="p34"><circle cx="478" cy="851" r="6.5"/></g>
<g id="p35"><circle cx="517" cy="853" r="6.5"/></g>
<g id="q1"><circle cx="783" cy="578" r="6.5"/></g>
<g id="q2"><circle cx="821" cy="593" r="6.5"/></g>
<g id="q3"><circle cx="754" cy="602" r="6.5"/></g>
<g id="q4"><circle cx="790" cy="616" r="6.5"/></g>
<g id="q5"><circle cx="825" cy="632" r="6.5"/></g>
<g id="q6"><circle cx="741" cy="637" r="6.5"/></g>
<g id="q7"><circle cx="782" cy="652" r="6.5"/></g>
<g id="q8"><circle cx="816" cy="668" r="6.5"/></g>
<g id="l1"><circle cx="286" cy="534" r="6.5"/></g>
<g id="l2"><circle cx="325" cy="536" r="6.5"/></g>
<g id="l3"><circle cx="266" cy="567" r="6.5"/></g>
<g id="l4"><circle cx="304" cy="569" r="6.5"/></g>
<g id="l5"><circle cx="342" cy="571" r="6.5"/></g>
<g id="l6"><circle cx="284" cy="602" r="6.5"/></g>
<g id="l7"><circle cx="299" cy="636" r="6.5"/></g>
<g id="m1"><circle cx="415" cy="585" r="6.5"/></g>
<g id="m2"><circle cx="433" cy="620" r="6.5"/></g>
<g id="m3"><circle cx="546" cy="623" r="6.5"/></g>
</g>
<g class="ro">
<g id="s1"><circle cx="785" cy="692" r="15"/></g>
<g id="s2"><circle cx="742" cy="711" r="15"/></g>
<g id="s3"><circle cx="820" cy="706" r="15"/></g>
<g id="s4"><circle cx="776" cy="726" r="15"/></g>
<g id="s5"><circle cx="851" cy="726" r="15"/></g>
<g id="s6"><circle cx="811" cy="742" r="15"/></g>
<g id="s7"><circle cx="765" cy="763" r="15"/></g>
<g id="s8"><circle cx="840" cy="766" r="15"/></g>
<g id="s9"><circle cx="799" cy="778" r="15"/></g>
<g id="s10"><circle cx="748" cy="802" r="15"/></g>
<g id="s11"><circle cx="827" cy="803" r="15"/></g>
<g id="s12"><circle cx="591" cy="868" r="15"/></g>
<g id="s13"><circle cx="653" cy="874" r="15"/></g>
<g id="s14"><circle cx="691" cy="876" r="15"/></g>
<g id="s15"><circle cx="620" cy="893" r="15"/></g>
<g id="s16"><circle cx="658" cy="912" r="15"/></g>
<g id="s17"><circle cx="696" cy="913" r="15"/></g>
<g id="s18"><circle cx="625" cy="930" r="15"/></g>
</g>
</g>
</svg>
